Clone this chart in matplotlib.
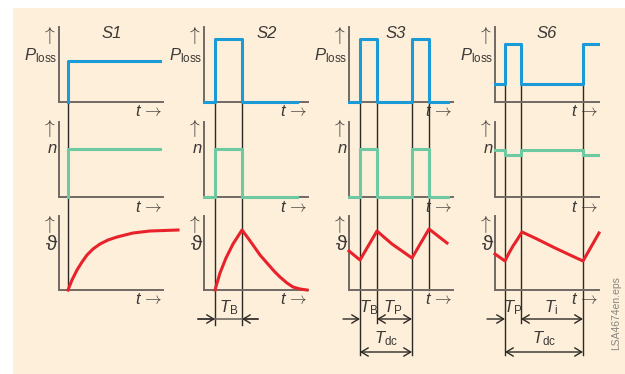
import matplotlib
matplotlib.use('Agg')
import matplotlib.pyplot as plt
from matplotlib.patches import Rectangle
from matplotlib.transforms import blended_transform_factory

plt.rcParams['font.family'] = ['Liberation Sans', 'DejaVu Sans']
plt.rcParams['mathtext.fontset'] = 'custom'
plt.rcParams['mathtext.rm'] = 'Liberation Sans'
plt.rcParams['mathtext.it'] = 'Liberation Sans:italic'

W, H = 625, 374
BEIGE = '#fdefd9'
BLUE = '#1b9ad8'
GREEN = '#6cc9a1'
RED = '#e8222b'
AXIS = '#716a64'
MARK = '#2d2926'
TEXT = '#3b3836'

# duty types
duty = ['S1', 'S2', 'S3', 'S6']

# S1 continuous duty
s1_t = [9, 9, 101]
s1_p = [0, 41, 41]
s1_n = [0, 48, 48]
s1_th_t = [9, 13, 18, 23, 28, 34, 41, 49, 58, 74, 91, 119]
s1_th = [0, 10, 20, 28, 35, 41, 46, 50, 53, 57, 59, 60]
s1_marks = [9]

# S2 short-time duty
s2_t = [0, 11, 11, 38, 38, 93]
s2_p = [0, 0, 63, 63, 0, 0]
s2_n = [0, 0, 48, 48, 0, 0]
s2_th_t = [11, 16, 22, 29, 38, 44, 49, 56, 63, 70, 76, 83, 89, 96, 103]
s2_th = [0, 17, 32, 46, 60, 52, 45, 35, 27, 19, 13, 7, 3, 1, 0]
s2_marks = [11, 38]

# S3 intermittent duty
s3_t = [0, 11, 11, 28, 28, 63, 63, 80, 80, 99]
s3_p = [0, 0, 63, 63, 0, 0, 63, 63, 0, 0]
s3_n = [0, 0, 48, 48, 0, 0, 48, 48, 0, 0]
s3_th_t = [0, 11, 28, 36, 43, 53, 63, 80, 89, 98]
s3_th = [39, 30, 59, 52, 46, 39, 32, 61, 54, 47]
s3_marks = [11, 28, 63, 80]

# S6 continuous operation periodic duty
s6_t = [0, 10, 10, 26, 26, 88, 88, 103]
s6_p = [18, 18, 58, 58, 18, 18, 58, 58]
s6_n = [47, 47, 42, 42, 47, 47, 42, 42]
s6_th_t = [0, 10, 14, 18, 22, 27, 42, 58, 75, 88, 104]
s6_th = [36, 29, 37, 44, 50, 58, 51, 43, 35, 29, 57]
s6_marks = [10, 26, 88]

# time spans below the graphs: (from, to, arrow style, row)
s2_dims = [(-6, 54, '-', 0), (-6, 11, '->', 0), (54, 38, '->', 0)]
s3_dims = [(-6, 11, '->', 0), (28, 63, '<->', 0), (11, 63, '<->', 1)]
s6_dims = [(-8, 10, '->', 0), (26, 88, '<->', 0), (10, 88, '<->', 1)]
s2_labels = [('$T_{\\rm B}$', 24.5, 0)]
s3_labels = [('$T_{\\rm B}$', 19.5, 0), ('$T_{\\rm P}$', 44, 0), ('$T_{\\rm dc}$', 37, 1)]
s6_labels = [('$T_{\\rm P}$', 18, 0), ('$T_{\\rm i}$', 56, 0), ('$T_{\\rm dc}$', 49, 1)]

columns = [
    (s1_t, s1_p, s1_n, s1_th_t, s1_th, s1_marks, [], []),
    (s2_t, s2_p, s2_n, s2_th_t, s2_th, s2_marks, s2_dims, s2_labels),
    (s3_t, s3_p, s3_n, s3_th_t, s3_th, s3_marks, s3_dims, s3_labels),
    (s6_t, s6_p, s6_n, s6_th_t, s6_th, s6_marks, s6_dims, s6_labels),
]

# layout in pixels
col_x = [59, 204, 349, 495]
col_w = 104
rows = [(27, 102), (122, 197), (216, 290)]
title_x = [112, 267, 396, 547]
mark_top = [61, 39, 39, 44]
mark_bottom = [[290], [325, 325], [355, 323, 355, 290], [355, 323, 355]]
dim_y = [319, 352]
label_y = [312, 343]
ylabels = ['$P_{\\rm loss}$', '$n$', '\u03d1']
ylabel_size = [12, 12, 15]
ylabel_base = [60, 153, 250]
uparrow_y = [35, 128, 224]


def fx(px):
    return px / W


def fy(py):
    return 1 - py / H


fig = plt.figure(figsize=(W / 100, H / 100), dpi=100)
fig.patches.append(Rectangle((fx(13), 0), 1 - fx(13), fy(8), transform=fig.transFigure,
                             facecolor=BEIGE, edgecolor='none', zorder=-5))

for c, (t, p, n, th_t, th, marks, dims, labels) in enumerate(columns):
    axs = []
    for r, (top, bot) in enumerate(rows):
        ax = fig.add_axes([fx(col_x[c]), fy(bot), col_w / W, (bot - top) / H])
        ax.set_xlim(0, col_w)
        ax.set_ylim(0, bot - top)
        ax.patch.set_visible(False)
        for s in ['top', 'right']:
            ax.spines[s].set_visible(False)
        for s in ['left', 'bottom']:
            ax.spines[s].set_color(AXIS)
            ax.spines[s].set_linewidth(1.4)
        ax.set_xticks([])
        ax.set_yticks([])
        axs.append(ax)

        # axis captions
        fig.text(fx(col_x[c] - 11), fy(uparrow_y[r]), '$\\uparrow$', ha='center', va='center',
                 fontsize=14, color=TEXT, math_fontfamily='cm')
        fig.text(fx(col_x[c] - 2), fy(ylabel_base[r]), ylabels[r], ha='right', va='baseline',
                 fontsize=ylabel_size[r], color=TEXT)
        fig.text(fx(col_x[c] + col_w - 21), fy(bot + 10), '$t$', ha='right', va='center',
                 fontsize=12, color=TEXT)
        fig.text(fx(col_x[c] + col_w), fy(bot + 10), '$\\rightarrow$', ha='right', va='center',
                 fontsize=12, color=TEXT, math_fontfamily='cm')

    axs[0].plot(t, p, color=BLUE, lw=2.2, zorder=3, clip_on=False)
    axs[1].plot(t, n, color=GREEN, lw=2.2, zorder=3, clip_on=False)
    axs[2].plot(th_t, th, color=RED, lw=2.2, zorder=3, clip_on=False)

    fig.text(fx(title_x[c]), fy(34), duty[c], ha='center', va='center', fontsize=12,
             style='italic', color=TEXT)

    # switching instants through all three graphs
    trans = blended_transform_factory(axs[0].transData, fig.transFigure)
    for m, yb in zip(marks, mark_bottom[c]):
        axs[0].plot([m, m], [fy(mark_top[c]), fy(yb)], color=MARK, lw=1.0,
                    transform=trans, clip_on=False, zorder=1)

    for t0, t1, style, row in dims:
        y = fy(dim_y[row])
        if style == '-':
            axs[0].plot([t0, t1], [y, y], color=AXIS, lw=1.2, transform=trans, clip_on=False)
        else:
            axs[0].annotate('', xy=(t1, y), xytext=(t0, y), xycoords=trans, textcoords=trans,
                            arrowprops=dict(arrowstyle=style + ',head_length=0.5,head_width=0.3',
                                            color=MARK, lw=1.0, shrinkA=0, shrinkB=0,
                                            mutation_scale=10))
    for txt, tl, row in labels:
        axs[0].text(tl, fy(label_y[row]), txt, transform=trans, ha='center', va='baseline',
                    fontsize=12, color=TEXT)

fig.text(fx(616), fy(313), 'LSA4674en.eps', rotation=90, ha='center', va='center',
         fontsize=7.5, color='#8a8580')

fig.savefig('out.png', dpi=100)
